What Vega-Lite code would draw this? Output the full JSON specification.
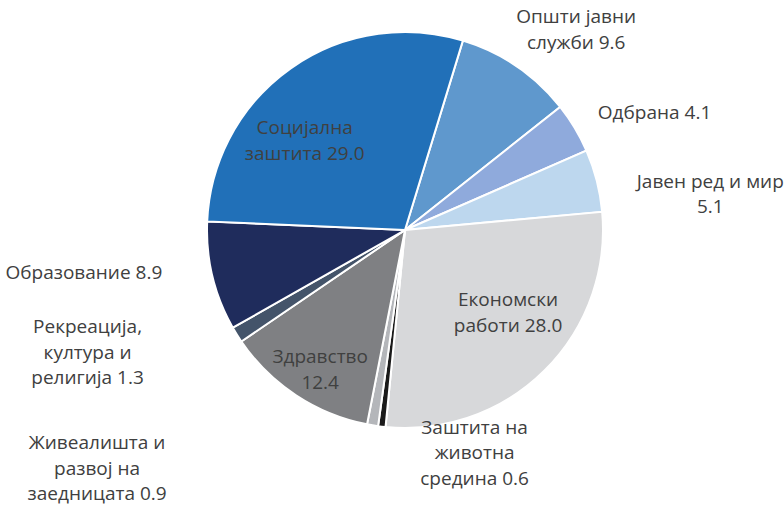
{
  "$schema": "https://vega.github.io/schema/vega-lite/v6.json",
  "width": 758,
  "height": 460,
  "autosize": {"type": "none"},
  "padding": {"left": 26, "top": 0, "right": 0, "bottom": 46},
  "background": "white",
  "config": {
    "view": {"stroke": null},
    "text": {"font": "Open Sans", "fontSize": 19, "lineBreak": "\n", "lineHeight": 25.5, "color": "#404040"}
  },
  "data": {
    "values": [
      {"idx": 1, "name": "Општи јавни служби", "value": 9.6, "label": "Општи јавни\nслужби 9.6"},
      {"idx": 2, "name": "Одбрана", "value": 4.1, "label": "Одбрана 4.1"},
      {"idx": 3, "name": "Јавен ред и мир", "value": 5.1, "label": "Јавен ред и мир\n5.1"},
      {"idx": 4, "name": "Економски работи", "value": 28.0, "label": "Економски\nработи 28.0"},
      {"idx": 5, "name": "Заштита на животна средина", "value": 0.6, "label": "Заштита на\nживотна\nсредина 0.6"},
      {"idx": 6, "name": "Живеалишта и развој на заедницата", "value": 0.9, "label": "Живеалишта и\nразвој на\nзаедницата 0.9"},
      {"idx": 7, "name": "Здравство", "value": 12.4, "label": "Здравство\n12.4"},
      {"idx": 8, "name": "Рекреација, култура и религија", "value": 1.3, "label": "Рекреација,\nкултура и\nрелигија 1.3"},
      {"idx": 9, "name": "Образование", "value": 8.9, "label": "Образование 8.9"},
      {"idx": 10, "name": "Социјална заштита", "value": 29.0, "label": "Социјална\nзаштита 29.0"}
    ]
  },
  "encoding": {
    "theta": {"field": "value", "type": "quantitative", "stack": true, "scale": {"range": [0.2967, 6.5799]}},
    "order": {"field": "idx", "type": "quantitative"}
  },
  "layer": [
    {
      "mark": {"type": "arc", "outerRadius": 198, "stroke": "white", "strokeWidth": 2},
      "encoding": {
        "color": {
          "field": "name", "type": "nominal", "legend": null,
          "scale": {
            "domain": ["Општи јавни служби", "Одбрана", "Јавен ред и мир", "Економски работи", "Заштита на животна средина", "Живеалишта и развој на заедницата", "Здравство", "Рекреација, култура и религија", "Образование", "Социјална заштита"],
            "range": ["#5F98CD", "#8FAADC", "#BDD7EE", "#D7D8DA", "#1A1A1A", "#B4B6BA", "#7F8083", "#44546A", "#1F2C5C", "#2170B8"]
          }
        }
      }
    },
    {
      "mark": {"type": "text", "radius": 263, "dx": 23, "dy": 4.5, "align": "center", "baseline": "middle"},
      "encoding": {"detail": {"field": "name"}, "text": {"condition": {"test": "datum.idx === 1", "field": "label"}, "value": ""}}
    },
    {
      "mark": {"type": "text", "radius": 225, "dx": 0, "dy": -1, "align": "left", "baseline": "middle"},
      "encoding": {"detail": {"field": "name"}, "text": {"condition": {"test": "datum.idx === 2", "field": "label"}, "value": ""}}
    },
    {
      "mark": {"type": "text", "radius": 308, "dx": 7, "dy": 28.5, "align": "center", "baseline": "middle"},
      "encoding": {"detail": {"field": "name"}, "text": {"condition": {"test": "datum.idx === 3", "field": "label"}, "value": ""}}
    },
    {
      "mark": {"type": "text", "radius": 132, "dx": 10, "dy": -23.5, "align": "center", "baseline": "middle"},
      "encoding": {"detail": {"field": "name"}, "text": {"condition": {"test": "datum.idx === 4", "field": "label"}, "value": ""}}
    },
    {
      "mark": {"type": "text", "radius": 234, "dx": 97, "dy": -34.5, "align": "center", "baseline": "middle"},
      "encoding": {"detail": {"field": "name"}, "text": {"condition": {"test": "datum.idx === 5", "field": "label"}, "value": ""}}
    },
    {
      "mark": {"type": "text", "radius": 390, "dx": -244, "dy": -171.5, "align": "center", "baseline": "middle"},
      "encoding": {"detail": {"field": "name"}, "text": {"condition": {"test": "datum.idx === 6", "field": "label"}, "value": ""}}
    },
    {
      "mark": {"type": "text", "radius": 165, "dx": 6, "dy": -10.5, "align": "center", "baseline": "middle"},
      "encoding": {"detail": {"field": "name"}, "text": {"condition": {"test": "datum.idx === 7", "field": "label"}, "value": ""}}
    },
    {
      "mark": {"type": "text", "radius": 341, "dx": -28, "dy": -83, "align": "center", "baseline": "middle"},
      "encoding": {"detail": {"field": "name"}, "text": {"condition": {"test": "datum.idx === 8", "field": "label"}, "value": ""}}
    },
    {
      "mark": {"type": "text", "radius": 225, "dx": -24, "dy": -9.5, "align": "right", "baseline": "middle"},
      "encoding": {"detail": {"field": "name"}, "text": {"condition": {"test": "datum.idx === 9", "field": "label"}, "value": ""}}
    },
    {
      "mark": {"type": "text", "radius": 134, "dx": -23, "dy": 7.5, "align": "center", "baseline": "middle"},
      "encoding": {"detail": {"field": "name"}, "text": {"condition": {"test": "datum.idx === 10", "field": "label"}, "value": ""}}
    }
  ]
}
